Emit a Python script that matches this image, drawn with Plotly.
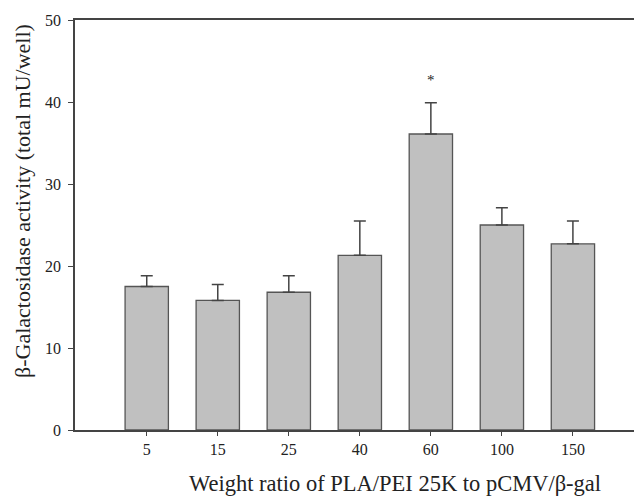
import plotly.graph_objects as go

categories = ["5", "15", "25", "40", "60", "100", "150"]
activity = [17.5, 15.8, 16.8, 21.3, 36.1, 25.0, 22.7]
errors = [1.3, 1.95, 2.0, 4.2, 3.8, 2.1, 2.8]
y_ticks = [0, 10, 20, 30, 40, 50]
star_category = "60"
star_value = 42.7
x_title = "Weight ratio of PLA/PEI 25K to pCMV/β-gal"
y_title = "β-Galactosidase activity (total mU/well)"

AX = "#444444"
FONT = "Liberation Serif"

fig = go.Figure()
fig.add_trace(go.Bar(
    x=list(range(len(categories))),
    y=activity,
    width=0.61,
    marker=dict(color="#c0c0c0", line=dict(color="#555555", width=1.3)),
    error_y=dict(type="data", array=errors, arrayminus=[0] * len(errors),
                 symmetric=False, color=AX, thickness=1.5, width=6),
    showlegend=False,
))

fig.add_annotation(x=categories.index(star_category), y=star_value, text="*",
                   showarrow=False, font=dict(family=FONT, size=15, color="#222"))

# axis titles (placed as annotations, slightly off-centre as in the reference)
fig.add_annotation(xref="paper", yref="paper", x=0.5725, y=-0.1317,
                   xanchor="center", yanchor="middle", showarrow=False,
                   text=x_title, font=dict(family=FONT, size=22.5, color="#222"))
fig.add_annotation(xref="paper", yref="paper", x=-0.0948, y=0.5585,
                   xanchor="center", yanchor="middle", showarrow=False, textangle=-90,
                   text=y_title, font=dict(family=FONT, size=22, color="#222"))

fig.update_layout(
    width=634, height=499,
    margin=dict(l=75, r=0, t=20, b=69),
    paper_bgcolor="white", plot_bgcolor="white",
    font=dict(family=FONT, size=16, color="#222"),
)
fig.update_xaxes(
    range=[-1.01, 6.86],
    tickmode="array", tickvals=list(range(len(categories))), ticktext=categories,
    showline=True, linecolor=AX, linewidth=1.5, mirror=True,
    ticks="outside", ticklen=4, tickcolor=AX, tickwidth=1.3,
    showgrid=False, zeroline=False, automargin=False,
    tickfont=dict(size=16),
)
fig.update_yaxes(
    range=[0, 50],
    tickvals=y_ticks,
    showline=True, linecolor=AX, linewidth=1.5, mirror=False,
    ticks="outside", ticklen=5, tickcolor=AX, tickwidth=1.3,
    showgrid=False, zeroline=False, automargin=False,
    ticklabelstandoff=4,
    tickfont=dict(size=16),
)

fig.write_html("out.html", config={"displayModeBar": False},
               post_script="document.body.style.margin='0';document.body.style.overflow='hidden';")
